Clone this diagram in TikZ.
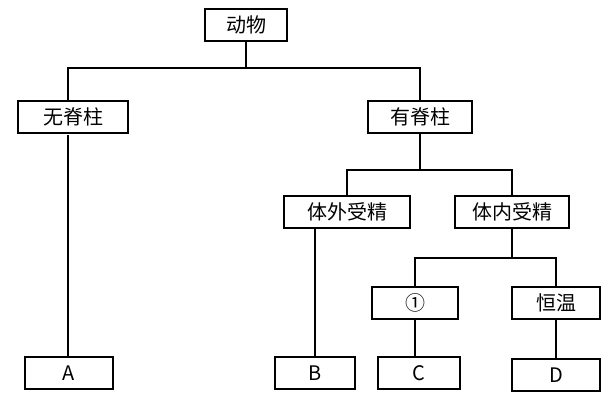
\documentclass[tikz,border=0pt]{standalone}
\usepackage{fontspec}
\setmainfont{Liberation Serif}
\newfontfamily\cjk{Noto Sans CJK SC}
\usetikzlibrary{positioning}

\begin{document}
\begin{tikzpicture}[
    x=0.5pt, y=-0.5pt,
    line width=0.6pt,
    box/.style={draw, minimum height=16pt, inner sep=2pt, font=\cjk\fontsize{10}{12}\selectfont}
]
    \useasboundingbox (0,0) rectangle (616,410);

    % Boxes
    \node[box, minimum width=41pt] (animal) at (246,25) {动物};
    \node[box, minimum width=55pt] (nov) at (73,117) {无脊柱};
    \node[box, minimum width=52pt] (ver) at (420,117) {有脊柱};
    \node[box, minimum width=63pt] (ext) at (347,212) {体外受精};
    \node[box, minimum width=57pt] (int) at (512,212) {体内受精};
    \node[box, minimum width=43pt] (one) at (415,303) {①};
    \node[box, minimum width=44pt] (warm) at (556,303) {恒温};
    \node[box, minimum width=44pt] (A) at (69,373) {A};
    \node[box, minimum width=40pt] (B) at (315,373) {B};
    \node[box, minimum width=41pt] (C) at (419,373) {C};
    \node[box, minimum width=44pt] (D) at (556,375) {D};

    % Connectors
    \draw (animal.south) -- (246,68) coordinate (j1);
    \draw (nov.north -| 68,0) |- (j1) -| (ver.north);
    \draw (68,135) -- (A.north -| 68,0);
    \draw (ver.south) -- (420,170) coordinate (j2);
    \draw (ext.north) |- (j2) -| (int.north);
    \draw (ext.south -| B.north) -- (B.north);
    \draw (int.south) -- (512,258) coordinate (j3);
    \draw (one.north) |- (j3) -| (warm.north);
    \draw (one.south) -- (one.south |- C.north);
    \draw (warm.south) -- (D.north);
\end{tikzpicture}
\end{document}
